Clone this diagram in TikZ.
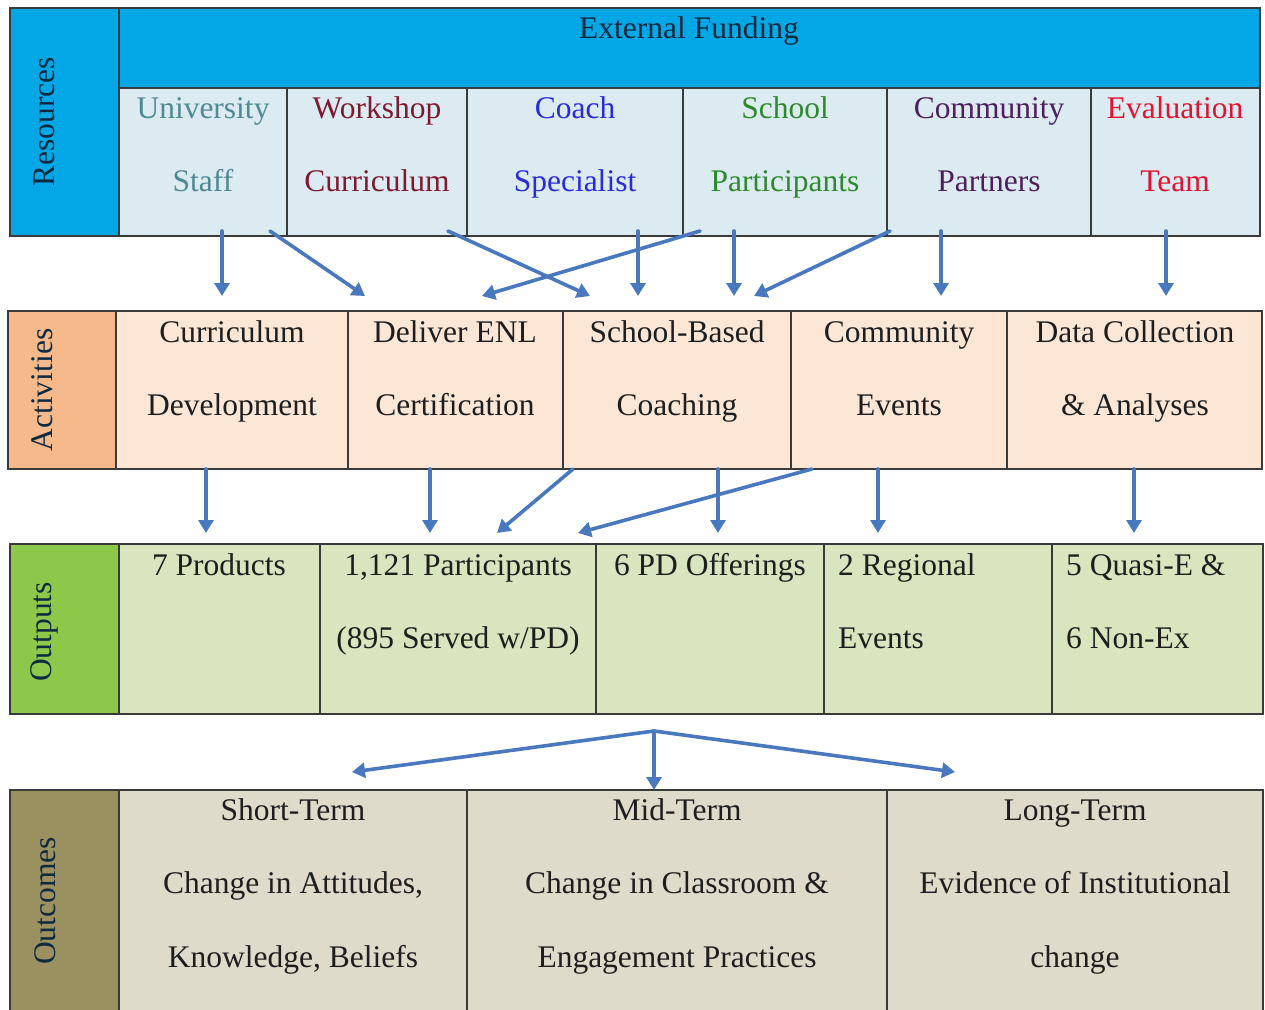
\documentclass[tikz,border=0pt]{standalone}
\usepackage{fontspec}
\setmainfont{Liberation Serif}
\usetikzlibrary{arrows.meta,calc}

% fills
\definecolor{resblue}{HTML}{04A7E6}
\definecolor{rescell}{HTML}{DCEAF2}
\definecolor{actorange}{HTML}{F6B98B}
\definecolor{actcell}{HTML}{FCE6D6}
\definecolor{outgreen}{HTML}{8DC84A}
\definecolor{outcell}{HTML}{D9E5BF}
\definecolor{olive}{HTML}{9A9060}
\definecolor{olivecell}{HTML}{DFDBCB}
\definecolor{framegray}{HTML}{3A3A3A}
\definecolor{arrowblue}{HTML}{4A78BE}
% text colours
\definecolor{navytext}{HTML}{0E2A40}
\definecolor{ustaff}{HTML}{4F8A92}
\definecolor{wcurr}{HTML}{7F1A2E}
\definecolor{coach}{HTML}{2A2AE0}
\definecolor{school}{HTML}{2C8A2C}
\definecolor{commun}{HTML}{4E1F5C}
\definecolor{evalred}{HTML}{E3122E}
\definecolor{bodytext}{HTML}{1E1E1E}

\tikzset{
  cellbox/.style={draw=framegray, line width=1.4pt, anchor=north west,
                  inner sep=0pt, outer sep=0pt},
  txt/.style={font=\fontsize{31.5}{36}\selectfont, anchor=base,
              inner sep=0pt, text=bodytext},
  sidelabel/.style={font=\fontsize{31.5}{36}\selectfont, rotate=90,
                    inner sep=0pt, text=navytext},
  flow/.style={draw=arrowblue, line width=3.6pt, line cap=round,
               -{Triangle[length=13pt,width=15pt]}}
}

% a filled, framed cell from its top-left to its bottom-right corner
\newcommand\cellat[6]{%
  \node[cellbox, fill=#6, minimum width={#4-#2}, minimum height={#5-#3}]
    (#1) at (#2,#3) {};}

\begin{document}
\begin{tikzpicture}[x=1pt,y=-1pt]
\useasboundingbox (0,0) rectangle (1265,1009);

% ---------------- Resources ----------------
\cellat{resL}{10}{8}{119}{236}{resblue}
\cellat{fund}{119}{8}{1260}{88}{resblue}
\cellat{r1}{119}{88}{287}{236}{rescell}
\cellat{r2}{287}{88}{467}{236}{rescell}
\cellat{r3}{467}{88}{683}{236}{rescell}
\cellat{r4}{683}{88}{887}{236}{rescell}
\cellat{r5}{887}{88}{1091}{236}{rescell}
\cellat{r6}{1091}{88}{1260}{236}{rescell}

\node[sidelabel] (resT) at (44,122) {Resources};
\node[txt, text=navytext] (fundT) at (689,38) {External Funding};
\node[txt, text=ustaff] (r1a) at (203,118) {University};
\node[txt, text=ustaff] (r1b) at (203,191) {Staff};
\node[txt, text=wcurr] (r2a) at (377,118) {Workshop};
\node[txt, text=wcurr] (r2b) at (377,191) {Curriculum};
\node[txt, text=coach] (r3a) at (575,118) {Coach};
\node[txt, text=coach] (r3b) at (575,191) {Specialist};
\node[txt, text=school] (r4a) at (785,118) {School};
\node[txt, text=school] (r4b) at (785,191) {Participants};
\node[txt, text=commun] (r5a) at (989,118) {Community};
\node[txt, text=commun] (r5b) at (989,191) {Partners};
\node[txt, text=evalred] (r6a) at (1175,118) {Evaluation};
\node[txt, text=evalred] (r6b) at (1175,191) {Team};

% ---------------- Activities ----------------
\cellat{actL}{8}{311}{116}{469}{actorange}
\cellat{a1}{116}{311}{348}{469}{actcell}
\cellat{a2}{348}{311}{563}{469}{actcell}
\cellat{a3}{563}{311}{791}{469}{actcell}
\cellat{a4}{791}{311}{1007}{469}{actcell}
\cellat{a5}{1007}{311}{1262}{469}{actcell}

\node[sidelabel] (actT) at (42,390) {Activities};
\node[txt] (a1a) at (232,342) {Curriculum};
\node[txt] (a1b) at (232,415) {Development};
\node[txt] (a2a) at (455,342) {Deliver ENL};
\node[txt] (a2b) at (455,415) {Certification};
\node[txt] (a3a) at (677,342) {School-Based};
\node[txt] (a3b) at (677,415) {Coaching};
\node[txt] (a4a) at (899,342) {Community};
\node[txt] (a4b) at (899,415) {Events};
\node[txt] (a5a) at (1135,342) {Data Collection};
\node[txt] (a5b) at (1135,415) {\& Analyses};

% ---------------- Outputs ----------------
\cellat{outL}{10}{544}{119}{714}{outgreen}
\cellat{o1}{119}{544}{320}{714}{outcell}
\cellat{o2}{320}{544}{596}{714}{outcell}
\cellat{o3}{596}{544}{824}{714}{outcell}
\cellat{o4}{824}{544}{1052}{714}{outcell}
\cellat{o5}{1052}{544}{1263}{714}{outcell}

\node[sidelabel] (outT) at (44,632) {Outputs};
\node[txt] (o1a) at (219,575) {7 Products};
\node[txt] (o2a) at (458,575) {1,121 Participants};
\node[txt] (o2b) at (458,648) {(895 Served w/PD)};
\node[txt] (o3a) at (710,575) {6 PD Offerings};
\node[txt, anchor=base west] (o4a) at (838,575) {2 Regional};
\node[txt, anchor=base west] (o4b) at (838,648) {Events};
\node[txt, anchor=base west] (o5a) at (1066,575) {5 Quasi-E \&};
\node[txt, anchor=base west] (o5b) at (1066,648) {6 Non-Ex};

% ---------------- Outcomes ----------------
\cellat{ocL}{10}{790}{119}{1015}{olive}
\cellat{c1}{119}{790}{467}{1015}{olivecell}
\cellat{c2}{467}{790}{887}{1015}{olivecell}
\cellat{c3}{887}{790}{1263}{1015}{olivecell}

\node[sidelabel] (ocT) at (45,901) {Outcomes};
\node[txt] (c1a) at (293,820) {Short-Term};
\node[txt] (c1b) at (293,893) {Change in Attitudes,};
\node[txt] (c1c) at (293,967) {Knowledge, Beliefs};
\node[txt] (c2a) at (677,820) {Mid-Term};
\node[txt] (c2b) at (677,893) {Change in Classroom \&};
\node[txt] (c2c) at (677,967) {Engagement Practices};
\node[txt] (c3a) at (1075,820) {Long-Term};
\node[txt] (c3b) at (1075,893) {Evidence of Institutional};
\node[txt] (c3c) at (1075,967) {change};

% ---------------- Resources -> Activities ----------------
\draw[flow] ($(r1.south)+(19,-5)$) -- ($(a1.north)+(-10,-15)$);
\draw[flow] ($(r1.south)+(67,-5)$) -- ($(a2.north)+(-90.5,-15)$);
\draw[flow] ($(r2.south)+(71,-5)$) -- ($(a3.north)+(-87,-15)$);
\draw[flow] ($(r4.south)+(-85,-5)$) -- ($(a2.north)+(26.5,-15)$);
\draw[flow] ($(r3.south)+(63,-5)$) -- ($(a3.north)+(-39,-15)$);
\draw[flow] ($(r4.south)+(-51,-5)$) -- ($(a3.north)+(57,-15)$);
\draw[flow] ($(r5.south)+(-99,-5)$) -- ($(a3.north)+(77,-15)$);
\draw[flow] ($(r5.south)+(-48,-5)$) -- ($(a4.north)+(42,-15)$);
\draw[flow] ($(r6.south)+(-9.5,-5)$) -- ($(a5.north)+(31.5,-15)$);

% ---------------- Activities -> Outputs ----------------
\draw[flow] ($(a1.south)+(-26,0)$) -- ($(o1.north)+(-13.5,-11)$);
\draw[flow] ($(a2.south)+(-25.5,0)$) -- ($(o2.north)+(-28,-11)$);
\draw[flow] ($(a3.south)+(-104,0)$) -- ($(o2.north)+(39,-11)$);
\draw[flow] ($(a3.south)+(41,0)$) -- ($(o3.north)+(8,-11)$);
\draw[flow] ($(a4.south)+(-87,0)$) -- ($(o2.north)+(120,-11)$);
\draw[flow] ($(a4.south)+(-21,0)$) -- ($(o4.north)+(-60,-11)$);
\draw[flow] ($(a5.south)+(-0.5,0)$) -- ($(o5.north)+(-23.5,-11)$);

% ---------------- Outputs -> Outcomes ----------------
\coordinate (split) at ($(o3.south)+(-56,17)$);
\draw[flow] (split) -- ($(c1.north)+(59,-18)$);
\draw[flow] (split) -- (c2.north -| split);
\draw[flow] (split) -- ($(c3.north)+(-120,-18)$);

\end{tikzpicture}
\end{document}
